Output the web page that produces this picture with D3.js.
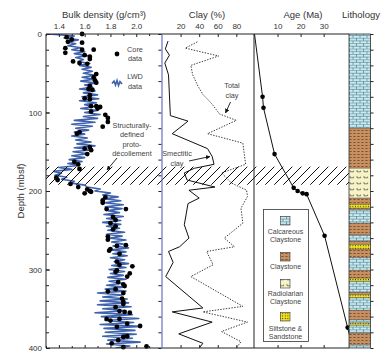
<!DOCTYPE html>
<html>
<head>
<script src="https://d3js.org/d3.v7.min.js"></script>
<style>
  body { margin: 0; background: #fff; }
  svg text { font-family: "Liberation Sans", Arial, Helvetica, sans-serif; fill: #333; }
  .tick text { font-size: 8px; fill: #333; }
  .tick line { stroke: #222; }
  .title { font-size: 9.5px; }
  .note { font-size: 7.3px; fill: #444; }
</style>
</head>
<body>
<svg id="chart" width="389" height="351"></svg>
<script>
// ---- data ----
const depthLabels = [0, 100, 200, 300, 400];
const densityTicks = [1.4, 1.6, 1.8, 2.0];
const clayTicks = [20, 40, 60, 80];
const ageTicks = [10, 20, 30];

// core bulk density (mbsf, g/cm3)
const coreDepth = [0,4,7,10,11,18,20,20,24,27,29,35,37,38,32,51,55,59,62,66,70,71,78,82,83,92,92,93,99,95,
  103,107,118,112,127,125,146,144,148,153,163,166,172,183,186,191,195,198,200,201,203,208,212,215,223,223,
  233,237,241,245,249,258,262,269,270,274,276,280,290,294,296,301,303,305,309,316,319,321,328,325,330,337,
  341,344,348,353,354,355,363,365,363,369,373,372,386,385,390,394,399,398];
const coreDens = [1.58,1.46,1.50,1.47,1.58,1.45,1.67,1.58,1.45,1.60,1.64,1.51,1.56,1.62,1.64,1.69,1.67,1.68,1.69,1.64,
  1.63,1.66,1.64,1.60,1.64,1.65,1.69,1.72,1.65,1.70,1.76,1.78,1.74,1.78,1.54,1.56,1.60,1.64,1.65,1.62,
  1.52,1.55,1.56,1.38,1.39,1.49,1.55,1.62,1.64,1.65,1.60,1.76,1.74,1.74,1.77,1.92,1.82,1.84,1.80,1.84,
  1.82,1.78,1.78,1.92,1.85,1.80,1.79,1.87,1.85,1.87,1.97,1.85,1.84,1.95,1.93,1.86,1.90,1.91,1.78,1.84,
  1.90,1.89,1.90,1.90,1.84,1.87,1.91,1.95,1.77,1.80,1.87,1.93,1.85,2.03,1.90,1.93,1.86,1.81,1.90,2.08];

// LWD bulk density, one sample every 2.5 m from 0 to 400 mbsf
const lwdStep = 2.5;
const lwdDens = [
  1.32,1.52,1.44,1.55,1.46,1.53,1.47,1.57,
  1.50,1.60,1.52,1.62,1.53,1.59,1.55,1.64,
  1.56,1.65,1.58,1.66,1.59,1.68,1.58,1.67,
  1.57,1.69,1.60,1.66,1.56,1.68,1.59,1.70,
  1.58,1.71,1.56,1.69,1.60,1.67,1.57,1.70,
  1.60,1.72,1.59,1.70,1.52,1.68,1.50,1.66,
  1.53,1.63,1.52,1.60,1.50,1.62,1.53,1.65,
  1.54,1.68,1.52,1.66,1.51,1.63,1.50,1.60,
  1.48,1.58,1.47,1.55,1.40,1.50,1.36,1.42,
  1.37,1.46,1.42,1.52,1.50,1.60,1.62,1.72,
  1.68,1.80,1.74,1.86,1.76,1.88,1.75,1.90,
  1.76,1.89,1.78,1.87,1.75,1.90,1.77,1.88,
  1.74,1.88,1.77,1.87,1.78,1.91,1.77,1.89,
  1.80,1.92,1.81,1.90,1.82,1.94,1.81,1.92,
  1.82,1.93,1.80,1.91,1.83,1.94,1.81,1.92,
  1.79,1.91,1.80,1.90,1.78,1.92,1.79,1.89,
  1.77,1.90,1.76,1.92,1.70,1.89,1.74,1.93,
  1.72,1.94,1.70,1.96,1.74,1.92,1.68,1.97,
  1.73,2.02,1.76,1.98,1.72,2.04,1.75,1.99,
  1.76,2.00,1.74,1.97,1.78,2.03,1.77,1.95,
  1.84];

// clay (%)
const smectDepth = [9,19,27,37,52,104,111,127,146,156,166,171,177,186,195,199,209,216,243,260,271,277,291,309,349,354,367,382,394,400];
const smectVal   = [6.5,3.6,8,3,7,9,28,11,49,54,56,35,24,27,57,29,40,28,24,29,19,7,12,4,44,11,54,18,44,40];
const totalDepth = [10,18,28,40,52,67,77,88,102,110,127,139,166,177,190,199,207,222,241,260,271,277,294,309,347,354,367,379,392,400];
const totalVal   = [38,25,61,31,33,39,44,53,62,80,49,87,90,64,75,91,92,85,87,67,78,48,55,31,87,44,92,64,85,80];

// age (Ma)
const ageDepth = [0,80,94,153,196,200,203,204,257,374,400];
const ageVal   = [0,3.5,3.9,8.7,17,18.7,20.9,22.6,30.4,40.4,42.6];
const ageDated = [false,true,true,true,true,true,true,true,true,true,false];

// lithology
const lithTop  = [0,120,171,209,217,222,224,241,256,264,268,274,285,301,311,315,329,332,336,352,364,368,371,381,396];
const lithBase = [120,171,209,217,222,224,241,256,264,268,274,285,301,311,315,329,332,336,352,364,368,371,381,396,400];
const lithType = ["calc","clay","rad","clay","silt","clay","calc","clay","calc","clay","silt","clay","calc","clay","silt",
  "calc","clay","silt","calc","clay","calc","silt","calc","clay","calc"];
const legendTypes = ["calc","clay","rad","silt"];
const legendLabels = [["Calcareous","Claystone"],["Claystone"],["Radiolarian","Claystone"],["Siltstone &","Sandstone"]];

// decollement zone (mbsf)
const zoneTop = 169, zoneBase = 192;

// ---- scales ----
const svg = d3.select("#chart");
const y  = d3.scaleLinear().domain([0, 400]).range([34, 348]);
const xD = d3.scaleLinear().domain([1.3, 2.2]).range([46, 162]);
const xC = d3.scaleLinear().domain([0, 99]).range([162, 254]);
const xA = d3.scaleLinear().domain([0, 41]).range([254.5, 349]);
const litL = 349, litR = 370.5;

// ---- patterns ----
const defs = svg.append("defs");
function pat(id, w, h, bg) {
  const p = defs.append("pattern").attr("id", id).attr("patternUnits", "userSpaceOnUse")
    .attr("x", litL).attr("width", w).attr("height", h);
  p.append("rect").attr("width", w).attr("height", h).attr("fill", bg);
  return p;
}
pat("p-calc", 7, 5.4, "#c7edf0").append("path")
  .attr("d", "M0,0.3H7M0,3H7M0.5,0V3M4,3V5.4")
  .attr("stroke", "#3f6078").attr("stroke-width", 0.55).attr("fill", "none");
pat("p-clay", 4, 3, "#c98f5e").append("path")
  .attr("d", "M0.4,1.5H2.6").attr("stroke", "#3b2a1c").attr("stroke-width", 0.6);
pat("p-rad", 7, 6, "#f7f3c6").append("path")
  .attr("d", "M1,2V3.8H4.6V2.6").attr("stroke", "#333").attr("stroke-width", 0.6).attr("fill", "none");
pat("p-silt", 2.6, 2.6, "#f3e31a").append("circle")
  .attr("cx", 1.3).attr("cy", 1.3).attr("r", 0.55).attr("fill", "#333");
const hp = defs.append("pattern").attr("id", "hatch").attr("patternUnits", "userSpaceOnUse")
  .attr("width", 9).attr("height", 9);
hp.append("path").attr("d", "M0,9L9,0M-2,2L2,-2M7,11L11,7")
  .attr("stroke", "#111").attr("stroke-width", 1);

defs.append("marker").attr("id", "arrow").attr("viewBox", "0 0 6 6")
  .attr("refX", 5.5).attr("refY", 3).attr("markerWidth", 5).attr("markerHeight", 5)
  .attr("orient", "auto")
  .append("path").attr("d", "M0,0L6,3L0,6z").attr("fill", "#111");

defs.append("clipPath").attr("id", "clipD").append("rect")
  .attr("x", 46).attr("y", 34).attr("width", 116).attr("height", 314);
defs.append("clipPath").attr("id", "clipA").append("rect")
  .attr("x", 254).attr("y", 34).attr("width", 95).attr("height", 314);

// ---- density panel ----
const lwd = lwdDens.map((v, i) => ({ d: i * lwdStep, v: v }));
svg.append("path").datum(lwd)
  .attr("clip-path", "url(#clipD)")
  .attr("fill", "none").attr("stroke", "#3f62ad").attr("stroke-width", 1.6)
  .attr("stroke-linejoin", "round")
  .attr("d", d3.line().x(d => xD(d.v)).y(d => y(d.d)));

svg.append("g").selectAll("circle")
  .data(coreDepth.map((d, i) => [d, coreDens[i]]))
  .join("circle")
    .attr("cx", d => xD(d[1])).attr("cy", d => y(d[0])).attr("r", 2.4).attr("fill", "#000");

// ---- clay panel ----
const clayLine = d3.line().x(d => xC(d[1])).y(d => y(d[0]));
svg.append("path").datum(totalDepth.map((d, i) => [d, totalVal[i]]))
  .attr("fill", "none").attr("stroke", "#222").attr("stroke-width", 0.9)
  .attr("stroke-dasharray", "1.4,1.4").attr("d", clayLine);
svg.append("path").datum(smectDepth.map((d, i) => [d, smectVal[i]]))
  .attr("fill", "none").attr("stroke", "#111").attr("stroke-width", 1)
  .attr("d", clayLine);

// ---- age panel ----
const ageData = ageDepth.map((d, i) => [d, ageVal[i], ageDated[i]]);
svg.append("path").datum(ageData).attr("clip-path", "url(#clipA)")
  .attr("fill", "none").attr("stroke", "#111").attr("stroke-width", 1)
  .attr("d", d3.line().x(d => xA(d[1])).y(d => y(d[0])));
svg.append("g").selectAll("circle").data(ageData.filter(d => d[2]))
  .join("circle")
    .attr("cx", d => xA(d[1])).attr("cy", d => y(d[0])).attr("r", 2.3).attr("fill", "#000");

// ---- hatched decollement zone ----
svg.append("rect").attr("x", 46).attr("y", y(zoneTop)).attr("width", litL - 46)
  .attr("height", y(zoneBase) - y(zoneTop)).attr("fill", "url(#hatch)");

// ---- lithology column ----
const lith = svg.append("g");
lith.selectAll("rect").data(lithTop.map((t, i) => [t, lithBase[i], lithType[i]]))
  .join("rect")
    .attr("x", litL).attr("width", litR - litL)
    .attr("y", d => y(d[0])).attr("height", d => y(d[1]) - y(d[0]))
    .attr("fill", d => "url(#p-" + d[2] + ")");
lith.selectAll("line").data(lithTop.slice(1))
  .join("line").attr("x1", litL).attr("x2", litR)
    .attr("y1", d => y(d)).attr("y2", d => y(d)).attr("stroke", "#333").attr("stroke-width", 0.5);
lith.append("rect").attr("x", litL).attr("y", 34).attr("width", litR - litL).attr("height", 314)
  .attr("fill", "none").attr("stroke", "#333").attr("stroke-width", 0.8);

// ---- frame ----
const frame = svg.append("g").attr("stroke-width", 1).attr("fill", "none");
frame.append("line").attr("x1", 46).attr("x2", litL).attr("y1", 34).attr("y2", 34).attr("stroke", "#222");
frame.append("line").attr("x1", 46).attr("x2", litL).attr("y1", 348).attr("y2", 348).attr("stroke", "#222");
frame.append("line").attr("x1", 46).attr("x2", 46).attr("y1", 34).attr("y2", 348).attr("stroke", "#222");
frame.append("line").attr("x1", 162).attr("x2", 162).attr("y1", 34).attr("y2", 348).attr("stroke", "#6870c4").attr("stroke-width", 1.2);
frame.append("line").attr("x1", 254).attr("x2", 254).attr("y1", 34).attr("y2", 348).attr("stroke", "#222");

// ---- axes ----
const minorDepth = d3.range(0, 401, 20);
function axis(gen, tx, ty) {
  svg.append("g").attr("transform", `translate(${tx},${ty})`).call(gen)
    .call(g => g.select(".domain").remove());
}
axis(d3.axisLeft(y).tickValues(minorDepth).tickSize(-3).tickFormat(""), 46, 0);
axis(d3.axisLeft(y).tickValues(depthLabels).tickSize(-4).tickPadding(4), 46, 0);
axis(d3.axisRight(y).tickValues(minorDepth).tickSize(-3).tickFormat(""), 161.4, 0);
axis(d3.axisRight(y).tickValues(minorDepth).tickSize(3).tickFormat(""), litR, 0);

const densMinor = [1.3, 1.5, 1.7, 1.9, 2.1];
axis(d3.axisTop(xD).tickValues(densityTicks).tickSize(-3).tickPadding(5).tickFormat(d3.format(".1f")), 0, 34);
axis(d3.axisTop(xD).tickValues(densMinor).tickSize(-2).tickFormat(""), 0, 34);
axis(d3.axisBottom(xD).tickValues(densityTicks).tickSize(-3).tickFormat(""), 0, 348);
axis(d3.axisBottom(xD).tickValues(densMinor).tickSize(-2).tickFormat(""), 0, 348);
axis(d3.axisTop(xC).tickValues(clayTicks).tickSize(-3).tickPadding(5), 0, 34);
axis(d3.axisBottom(xC).tickValues(clayTicks).tickSize(-3).tickFormat(""), 0, 348);
axis(d3.axisTop(xA).tickValues(ageTicks).tickSize(-3).tickPadding(5), 0, 34);
axis(d3.axisBottom(xA).tickValues(ageTicks).tickSize(-3).tickFormat(""), 0, 348);

// ---- titles ----
const titles = [["Bulk density (g/cm\u00b3)", 104], ["Clay (%)", 207], ["Age (Ma)", 303], ["Lithology", 361]];
svg.selectAll("text.title").data(titles).join("text").attr("class", "title")
  .attr("x", d => d[1]).attr("y", 17.5).attr("text-anchor", "middle").text(d => d[0]);
svg.append("text").attr("class", "title").attr("transform", "translate(21,191) rotate(-90)")
  .attr("text-anchor", "middle").attr("dy", "0.35em").text("Depth (mbsf)");

// ---- annotations ----
function note(lines, x, y0, step) {
  lines.forEach((t, i) => svg.append("text").attr("class", "note").attr("x", x)
    .attr("y", y0 + i * step).attr("dy", "0.35em").attr("text-anchor", "middle").text(t));
}
svg.append("circle").attr("cx", 117).attr("cy", 54).attr("r", 2.4).attr("fill", "#000");
note(["Core", "data"], 135, 49, 9);
svg.append("path").attr("d", "M112,83.5L114,81L115.5,85L117,80.5L118.5,85.5L120,81.5L122,84")
  .attr("fill", "none").attr("stroke", "#3f62ad").attr("stroke-width", 1.6);
note(["LWD", "data"], 135, 76, 10);
note(["Structurally-", "defined", "proto-", "d\u00e9collement"], 132, 125, 9.5);
svg.append("line").attr("x1", 117).attr("y1", 158).attr("x2", 107).attr("y2", 170)
  .attr("stroke", "#111").attr("stroke-width", 0.9).attr("marker-end", "url(#arrow)");
note(["Total", "clay"], 232, 85, 10.5);
svg.append("line").attr("x1", 230.5).attr("y1", 102).attr("x2", 225.5).attr("y2", 113)
  .attr("stroke", "#111").attr("stroke-width", 0.9).attr("marker-end", "url(#arrow)");
note(["Smectitic", "clay"], 177, 153, 10);
svg.append("line").attr("x1", 189).attr("y1", 161).attr("x2", 210).attr("y2", 156.5)
  .attr("stroke", "#111").attr("stroke-width", 0.9).attr("marker-end", "url(#arrow)");

// ---- lithology legend ----
const lg = svg.append("g");
lg.append("rect").attr("x", 263.5).attr("y", 209.5).attr("width", 45).attr("height", 132)
  .attr("fill", "#fff").attr("stroke", "#333").attr("stroke-width", 0.8);
const swatchY = [216.5, 252.5, 279.5, 312.5];
const textY = [231.5, 266.5, 293.3, 328.3];
legendTypes.forEach((t, i) => {
  lg.append("rect").attr("x", 280.5).attr("y", swatchY[i]).attr("width", 9.5).attr("height", 8.5)
    .attr("fill", "url(#p-" + t + ")").attr("stroke", "#333").attr("stroke-width", 0.6);
  legendLabels[i].forEach((s, j) => lg.append("text").attr("class", "note")
    .attr("x", 285.5).attr("y", textY[i] + j * 8.3).attr("dy", "0.35em")
    .attr("text-anchor", "middle").style("font-size", "7px").text(s));
});
</script>
</body>
</html>
